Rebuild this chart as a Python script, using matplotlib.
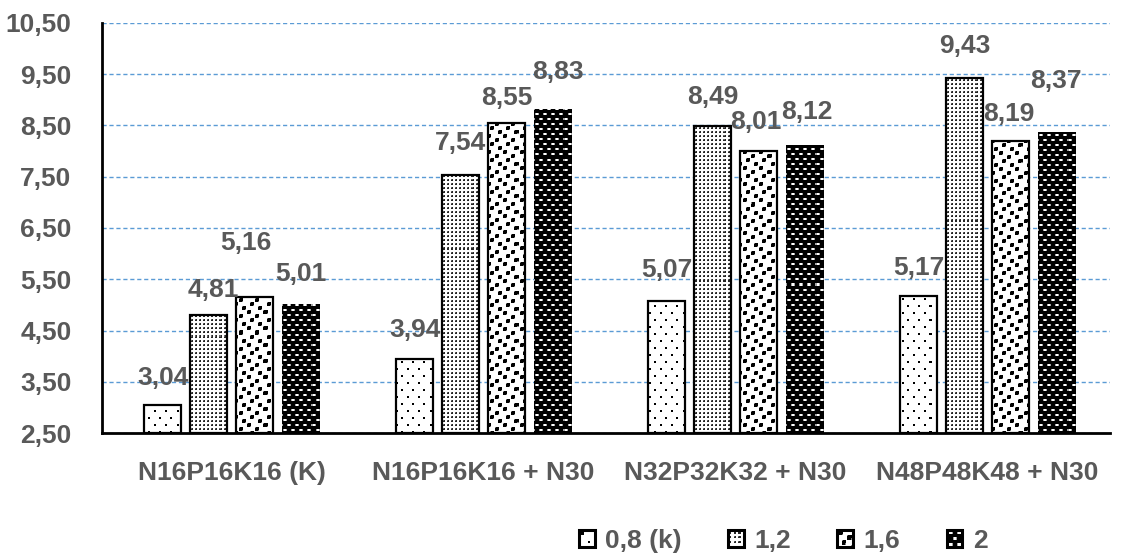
import numpy as np
import matplotlib
matplotlib.use("Agg")
import matplotlib.pyplot as plt
from matplotlib.patches import Patch, Rectangle
from matplotlib.legend_handler import HandlerBase
from matplotlib.image import BboxImage
from matplotlib.transforms import Bbox, TransformedBbox
from matplotlib.ticker import FuncFormatter

plt.rcParams['font.family'] = ['Liberation Sans', 'DejaVu Sans']
plt.rcParams['font.weight'] = 'bold'

# yield data per treatment, one list per dose
groups = ['N16P16K16 (K)', 'N16P16K16 + N30', 'N32P32K32 + N30', 'N48P48K48 + N30']
doses = ['0,8 (k)', '1,2', '1,6', '2']
dose_08 = [3.04, 3.94, 5.07, 5.17]
dose_12 = [4.81, 7.54, 8.49, 9.43]
dose_16 = [5.16, 8.55, 8.01, 8.19]
dose_20 = [5.01, 8.83, 8.12, 8.37]
series = [dose_08, dose_12, dose_16, dose_20]

# how far (px) each value label sits above its bar, and sideways nudge
lift = [[27, 29, 31, 28],
        [25, 32, 29, 32],
        [54, 25, 29, 27],
        [30, 37, 33, 51]]
nudge = [[0, 0, 0, 0],
         [5, 0, 0, 0],
         [-9, 0, -3, -2],
         [0, 5, 2, 0]]

GREY = '#595959'
FS = 19
kinds = ['sparse', 'dense', 'confetti', 'shingle']


def tile(kind):
    # small repeating pixel tiles, 1 = white, 0 = black
    if kind == 'sparse':
        t = np.ones((14, 11))
        t[2:4, 2:4] = 0
        t[9:11, 8:10] = 0
    elif kind == 'dense':
        t = np.ones((4, 4))
        t[1:3, 1:3] = 0.15
        t[1, 1] = 0.4
    elif kind == 'confetti':
        t = np.ones((16, 16))
        for r, c in [(0, 1), (4, 9), (8, 4), (12, 12)]:
            t[r:r + 4, c:c + 4] = 0
            t[r, c] = t[r + 3, c + 3] = 0.5
    else:
        t = np.zeros((10, 8))
        t[1:3, 1:5] = 1
        t[[1, 1, 2, 2], [1, 4, 1, 4]] = 0.65
        t[6:8, [5, 6, 7, 0]] = 1
        t[[6, 6, 7, 7], [5, 0, 5, 0]] = 0.65
    return t


def texture(kind, h, w):
    t = tile(kind)
    reps = (h // t.shape[0] + 1, w // t.shape[1] + 1)
    return np.tile(t, reps)[:h, :w]


class TextureHandler(HandlerBase):
    def __init__(self, kind):
        super().__init__()
        self.kind = kind

    def create_artists(self, legend, orig_handle, xdescent, ydescent,
                       width, height, fontsize, trans):
        bb = TransformedBbox(Bbox.from_bounds(-xdescent, -ydescent, width, height), trans)
        img = BboxImage(bb, cmap='gray', interpolation='nearest')
        img.set_data(texture(self.kind, 14, 14))
        img.set_clim(0, 1)
        rect = Rectangle((-xdescent, -ydescent), width, height, fill=False,
                         ec='black', lw=2.2, transform=trans)
        return [img, rect]


fig = plt.figure(figsize=(11.22, 5.55), dpi=100)
ax = fig.add_axes([0.0909, 0.2198, 0.898, 0.7388])

x = np.arange(len(groups))
pitch = 0.1825
width = 0.147
xlim = (-0.515, len(groups) - 0.515)
ax.set_xlim(*xlim)
ax.set_ylim(2.5, 10.5)

# full-axes textures, clipped to each bar
fw, fh = fig.get_size_inches() * fig.dpi
pos = ax.get_position()
W, H = int(round(pos.width * fw)), int(round(pos.height * fh))
ext = (*ax.get_xlim(), *ax.get_ylim())

for i, (vals, kind) in enumerate(zip(series, kinds)):
    xs = x + (i - 1.5) * pitch
    bars = ax.bar(xs, np.array(vals) - 2.5, width, bottom=2.5, color='white',
                  edgecolor='none', zorder=2)
    tex = texture(kind, H, W)
    for b in bars:
        im = ax.imshow(tex, cmap='gray', vmin=0, vmax=1, extent=ext, origin='upper',
                       interpolation='nearest', aspect='auto', zorder=2.5)
        im.set_clip_path(b)
    if kind != 'shingle':
        ax.bar(xs, np.array(vals) - 2.5, width, bottom=2.5, fill=False,
               edgecolor='black', linewidth=1.6, zorder=3)
    for j, v in enumerate(vals):
        ax.annotate(f'{v:.2f}'.replace('.', ','), xy=(xs[j], v),
                    xytext=(nudge[i][j] * 0.72, lift[i][j] * 0.72),
                    textcoords='offset points', ha='center', va='center',
                    fontsize=FS, color=GREY, zorder=4)

ax.set_xlim(*xlim)
ax.set_ylim(2.5, 10.5)
ax.set_yticks(np.arange(2.5, 10.51, 1.0))
ax.yaxis.set_major_formatter(FuncFormatter(lambda v, p: f'{v:.2f}'.replace('.', ',')))
ax.set_xticks(x)
ax.set_xticklabels(groups)
ax.tick_params(axis='both', length=0, labelsize=FS, labelcolor=GREY)
ax.tick_params(axis='y', pad=22)
ax.tick_params(axis='x', pad=20)

ax.grid(axis='y', color='#5B9BD5', linestyle=(0, (3, 2)), linewidth=1.0)
ax.set_axisbelow(True)
for s in ['top', 'right']:
    ax.spines[s].set_visible(False)
for s in ['left', 'bottom']:
    ax.spines[s].set_linewidth(2.0)
    ax.spines[s].set_color('black')

handles = [Patch(label=d) for d in doses]
fig.legend(handles=handles, loc='center', bbox_to_anchor=(0.698, 0.025), ncol=4,
           frameon=False, fontsize=FS, labelcolor=GREY, handlelength=0.6,
           handleheight=0.6, handletextpad=0.4, columnspacing=1.75,
           handler_map={h: TextureHandler(k) for h, k in zip(handles, kinds)})

fig.savefig('out.png', dpi=100)
